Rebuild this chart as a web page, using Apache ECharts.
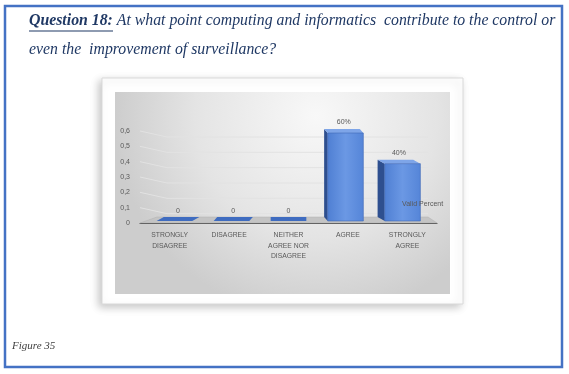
<!DOCTYPE html>
<html>
<head>
<meta charset="utf-8">
<script src="https://cdn.jsdelivr.net/npm/echarts@6/dist/echarts.min.js"></script>
<style>
html,body{margin:0;padding:0;background:#fff;}
#chart{width:569px;height:374px;}
</style>
</head>
<body>
<div id="chart"></div>
<script>
// ---- data ----
var categories = ['STRONGLY\nDISAGREE', 'DISAGREE', 'NEITHER\nAGREE NOR\nDISAGREE', 'AGREE', 'STRONGLY\nAGREE'];
var validPercent = [0, 0, 0, 0.6, 0.4];
var yTicks = [0, 0.1, 0.2, 0.3, 0.4, 0.5, 0.6];
var seriesName = 'Valid Percent';
var titleBold = 'Question 18:';
var titleLine1 = ' At what point computing and informatics  contribute to the control or';
var titleLine2 = 'even the  improvement of surveillance?';
var caption = 'Figure 35';

var chart = echarts.init(document.getElementById('chart'), null, {renderer: 'canvas'});

function fmtTick(v) { return v === 0 ? '0' : String(v).replace('.', ','); }
function fmtLabel(v) { return v === 0 ? '0' : Math.round(v * 100) + '%'; }

var serif = '"Liberation Serif", "DejaVu Serif", serif';
var sans = '"Liberation Sans", Arial, sans-serif';

var option = {
  animation: false,
  backgroundColor: '#ffffff',
  grid: {left: 140, right: 132, top: 131, bottom: 151, containLabel: false},
  legend: {
    data: [seriesName], icon: 'none', itemWidth: 0, itemGap: 0,
    left: 397, top: 197, padding: 0,
    textStyle: {fontSize: 7, color: '#595959', fontFamily: sans}
  },
  xAxis: {
    type: 'category', data: categories, boundaryGap: true,
    axisLine: {show: true, lineStyle: {color: '#4a4a4a', width: 1}},
    axisTick: {show: false},
    axisLabel: {fontSize: 6.8, color: '#595959', fontFamily: sans, lineHeight: 10.5, margin: 7, interval: 0}
  },
  yAxis: {
    type: 'value', min: 0, max: 0.6, interval: 0.1,
    axisLine: {show: false}, axisTick: {show: false}, splitLine: {show: false},
    axisLabel: {fontSize: 7, color: '#595959', fontFamily: sans, margin: 10, formatter: fmtTick}
  },
  graphic: [
    {type: 'rect', z: -10, shape: {x: 5, y: 6, width: 557, height: 361}, style: {fill: '#fff', stroke: '#4472C4', lineWidth: 2.5}},
    {type: 'rect', z: -9, shape: {x: 102, y: 78, width: 361, height: 226},
      style: {fill: '#fff', stroke: '#d9d9d9', lineWidth: 1, shadowBlur: 8, shadowColor: 'rgba(0,0,0,0.22)', shadowOffsetX: -3, shadowOffsetY: 3}},
    {type: 'rect', z: -8, shape: {x: 115, y: 92, width: 335, height: 202},
      style: {fill: {type: 'radial', x: 0.6, y: 0.12, r: 1.0,
        colorStops: [{offset: 0, color: '#f8f8f8'}, {offset: 0.6, color: '#e4e4e4'}, {offset: 1, color: '#cdcdcd'}]}}},
    {type: 'text', z: 5, left: 29, top: 13,
      style: {text: '{b|' + titleBold + '}{n|' + titleLine1 + '}',
        rich: {b: {fontSize: 15.8, fontWeight: 'bold', fontStyle: 'italic', fill: '#1F3864', fontFamily: serif},
               n: {fontSize: 15.8, fontStyle: 'italic', fill: '#1F3864', fontFamily: serif}}}},
    {type: 'line', z: 5, shape: {x1: 29, y1: 31, x2: 113, y2: 31}, style: {stroke: '#1F3864', lineWidth: 1.2}},
    {type: 'text', z: 5, left: 29, top: 42,
      style: {text: titleLine2, fontSize: 15.8, fontStyle: 'italic', fill: '#1F3864', fontFamily: serif}},
    {type: 'text', z: 5, left: 12, top: 341,
      style: {text: caption, fontSize: 11, fontStyle: 'italic', fill: '#404040', fontFamily: serif}}
  ],
  series: [
    {
      // back wall grid lines + floor
      type: 'custom', name: 'wall', silent: true, z: 1,
      data: yTicks.map(function (t) { return [0, t]; }),
      renderItem: function (params, api) {
        var cs = params.coordSys;
        var y = api.coord([0, api.value(1)])[1];
        var x0 = cs.x, x1 = cs.x + cs.width;
        if (api.value(1) === 0) {
          return {type: 'polygon', shape: {points: [[x0, y], [x1, y], [x1 - 9, y - 6], [x0 + 17, y - 6]]},
            style: {fill: '#c4c4c4', stroke: '#b0b0b0', lineWidth: 0.5}};
        }
        return {type: 'polyline', shape: {points: [[x0, y], [x0 + 27, y + 6], [x1 - 9, y + 6]]},
          style: {stroke: '#e2e2e2', lineWidth: 1, fill: null}};
      }
    },
    {
      type: 'custom', name: seriesName, z: 3,
      data: validPercent.map(function (v, i) { return [i, v]; }),
      renderItem: function (params, api) {
        var i = api.value(0), v = api.value(1);
        var base = api.coord([i, 0]);
        var top = api.coord([i, v]);
        var vx = api.coord([2, 0])[0];
        var band = api.size([1, 0])[0];
        var w = band * 0.6;
        var cx = base[0] + (vx - base[0]) * 0.04;
        var dx = (vx - base[0]) * 0.06, dy = -4;
        var yb = base[1] - 2;
        var fl = cx - w / 2, fr = cx + w / 2;
        var children = [];
        var label;
        if (v > 0) {
          var yt = top[1] + 2;
          children.push({type: 'polygon', shape: {points: [[fl, yb], [fl, yt], [fl + dx, yt + dy], [fl + dx, yb + dy]]},
            style: {fill: '#2e4f8f'}});
          children.push({type: 'polygon', shape: {points: [[fl, yt], [fr, yt], [fr + dx, yt + dy], [fl + dx, yt + dy]]},
            style: {fill: '#7ea5e8'}});
          children.push({type: 'rect', shape: {x: fl, y: yt, width: w, height: yb - yt},
            style: {fill: {type: 'linear', x: 0, y: 0, x2: 1, y2: 0,
              colorStops: [{offset: 0, color: '#4f7fd3'}, {offset: 0.5, color: '#6b98e4'}, {offset: 1, color: '#5585d8'}]},
              stroke: '#3f68b5', lineWidth: 0.6}});
          label = {x: cx + dx / 2, y: yt + dy - 7};
        } else {
          children.push({type: 'polygon', shape: {points: [[fl, yb], [fr, yb], [fr + dx, yb + dy], [fl + dx, yb + dy]]},
            style: {fill: '#3f6cc0'}});
          label = {x: cx + dx / 2, y: yb - 10};
        }
        children.push({type: 'text', x: label.x, y: label.y,
          style: {text: fmtLabel(v), fontSize: 7, fill: '#595959', fontFamily: sans, align: 'center', verticalAlign: 'middle'}});
        return {type: 'group', children: children};
      }
    }
  ]
};
chart.setOption(option);
</script>
</body>
</html>
